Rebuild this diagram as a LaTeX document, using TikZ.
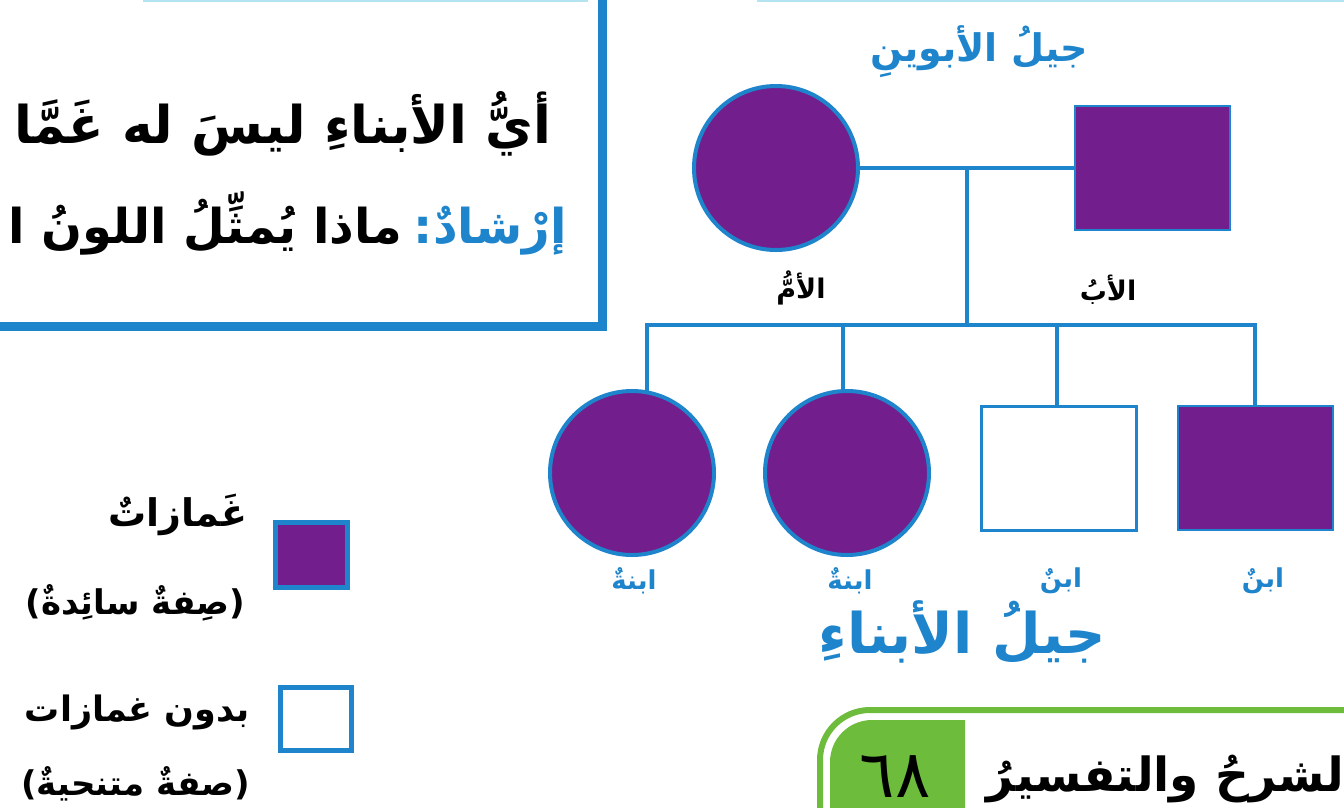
\documentclass[tikz,border=0pt]{standalone}
\usepackage{fontspec}
\usetikzlibrary{positioning}
\newfontfamily\arabicfont[Script=Arabic]{DejaVu Sans}
\TeXXeTstate=1
\definecolor{pedblue}{RGB}{30,132,204}
\definecolor{traitpurple}{RGB}{114,30,140}
\definecolor{tabgreen}{RGB}{110,188,60}
\definecolor{faintcyan}{RGB}{180,228,242}
\newcommand{\arsize}[1]{\arabicfont\bfseries\fontsize{#1}{#1}\selectfont}

\begin{document}
\begin{tikzpicture}[x=1pt, y=-1pt, every node/.style={inner sep=0pt, outer sep=0pt},
  female/.style={circle, draw=pedblue, line width=4pt, fill=traitpurple, minimum size=164pt},
  male/.style={rectangle, draw=pedblue, line width=2.5pt, fill=traitpurple, minimum width=155pt, minimum height=124pt},
  plainmale/.style={male, fill=white, line width=3pt},
  keybox/.style={rectangle, draw=pedblue, line width=5pt},
  link/.style={draw=pedblue, line width=4.5pt},
  kin/.style={text=pedblue}]
\useasboundingbox (0,0) rectangle (1344,807);
\clip (0,0) rectangle (1344,807);

% question box
\draw[faintcyan, line width=2pt] (143,1) -- (588,1);
\draw[faintcyan, line width=2pt] (757,1) -- (1350,1);
\draw[pedblue, line width=9pt] (602,-10) -- (602,326) -- (-10,326);
\node[anchor=east] (q1) at (551,124) {\arsize{52}\beginR أيُّ الأبناءِ ليسَ له غَمَّا\endR};
\node[anchor=east, kin] (hint) at (567,231) {\arsize{48}\beginR إرْشادٌ:\endR};
\node[anchor=base east] (q2) at ([xshift=-12pt]hint.base west) {\arsize{48}\beginR ماذا يُمثِّلُ اللونُ ا\endR};

% parents
\node[kin] (parentsgen) at (979,52) {\arsize{38}\beginR جيلُ الأبوينِ\endR};
\node[female] (mom) at (776,168) {};
\node[male, right=217pt of mom] (dad) {};
\node (momlbl) at (801,288) {\arsize{27}\beginR الأمُّ\endR};
\node (dadlbl) at (1108,290) {\arsize{27}\beginR الأبُ\endR};

% children
\node[female] (d1) at (632,473) {};
\node[female, right=51pt of d1] (d2) {};
\node[plainmale, right=52pt of d2, yshift=5pt] (s1) {};
\node[male, right=42pt of s1] (s2) {};
\node[kin] (d1lbl) at (634,581) {\arsize{26}\beginR ابنةٌ\endR};
\node[kin] (d2lbl) at (850,581) {\arsize{26}\beginR ابنةٌ\endR};
\node[kin] (s1lbl) at (1061,581) {\arsize{26}\beginR ابنٌ\endR};
\node[kin] (s2lbl) at (1263,581) {\arsize{26}\beginR ابنٌ\endR};
\node[kin] (childgen) at (962,632) {\arsize{56}\beginR جيلُ الأبناءِ\endR};

% lines
\coordinate (mid) at (967,168);
\coordinate (fork) at (967,325);
\coordinate (j1) at (647,325);
\coordinate (j2) at (843,325);
\coordinate (j3) at (1057,325);
\coordinate (j4) at (1255,325);
\draw[link] (mom) -- (dad);
\draw[link] (mid) -- (fork);
\draw[link] (j1 |- d1.north) -- (j1) -- (j4) -- (j4 |- s2.north);
\draw[link] (j2) -- (j2 |- d2.north);
\draw[link] (j3) -- (j3 |- s1.north);

% key
\node[keybox, fill=traitpurple, minimum width=72pt, minimum height=65pt] (keyfill) at (311,555) {};
\node[keybox, fill=white, minimum width=71pt, minimum height=63pt] (keyopen) at (316,719) {};
\node[anchor=east] (keyfilltxt) at (247,515) {\arsize{38}\beginR غَمازاتٌ\endR};
\node[anchor=east] (keyfillsub) at (245,603) {\arsize{34}\beginR (صِفةٌ سائِدةٌ)\endR};
\node[anchor=east] (keyopentxt) at (250,712) {\arsize{35}\beginR بدون غمازات\endR};
\node[anchor=east] (keyopensub) at (250,784) {\arsize{34}\beginR (صفةٌ متنحيةٌ)\endR};

% lesson tab
\draw[tabgreen, line width=6pt] (820,900) -- (820,760) arc[start angle=180, end angle=270, radius=50] -- (1400,710);
\fill[tabgreen] (830,900) -- (830,762) arc[start angle=180, end angle=270, radius=42] -- (965,720) -- (965,900) -- cycle;
\node (lessonno) at (895,777) {{\arabicfont\fontsize{66}{66}\selectfont ٦٨}};
\node[anchor=east] (lessontitle) at (1344,779) {\arsize{47}\beginR لشرحُ والتفسيرُ\endR};
\end{tikzpicture}
\end{document}
